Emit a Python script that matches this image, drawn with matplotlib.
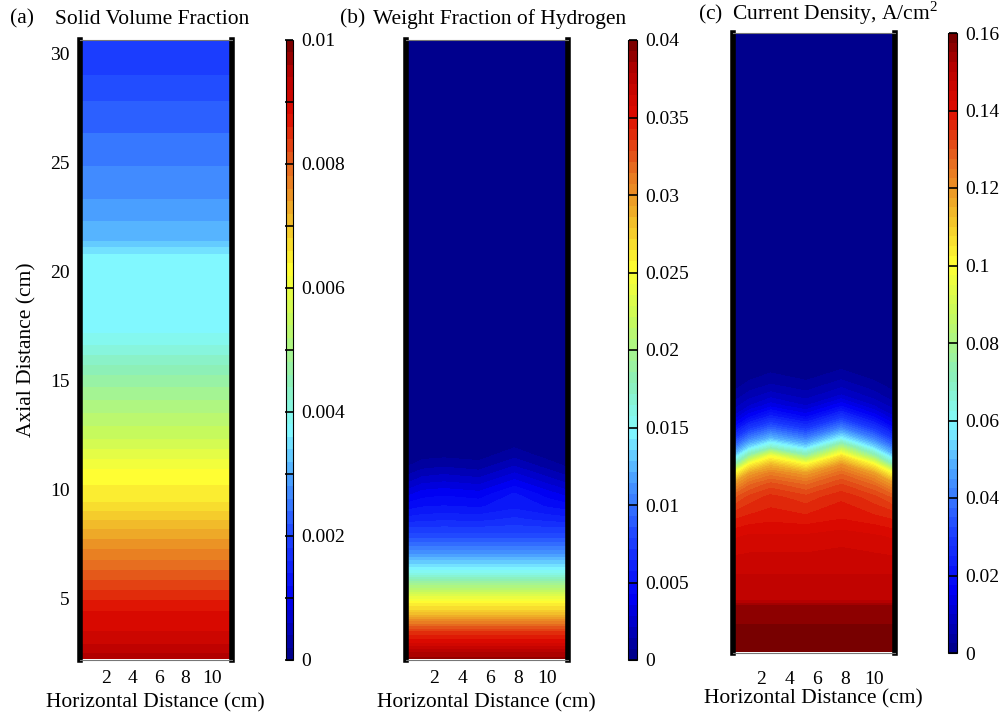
import numpy as np
import matplotlib
matplotlib.use("Agg")
import matplotlib.pyplot as plt
from matplotlib.colors import LinearSegmentedColormap
from matplotlib.ticker import MultipleLocator, FormatStrFormatter

plt.rcParams['font.family'] = ['Liberation Serif', 'DejaVu Serif']
plt.rcParams['mathtext.fontset'] = 'custom'
plt.rcParams['mathtext.rm'] = 'Liberation Serif'

# (a) solid volume fraction, uniform across the bed (values x 1e-3)
height_a = [2.2, 2.6, 3.2, 3.8, 4.4, 4.9, 5.6, 6.3, 7.0, 7.7, 8.4, 9.0, 9.6,
            10.2, 10.9, 11.6, 12.3, 13.2, 14.1, 15.0, 15.9, 16.6, 17.3, 18.5,
            19.6, 20.7, 21.4, 22.3, 23.3, 24.4, 25.6, 26.7, 27.8, 29.0, 30.6]
solid_a = [9.6, 9.3, 9.1, 8.9, 8.8, 8.6, 8.3, 8.0, 7.7, 7.4, 7.1, 6.8, 6.5,
           6.4, 6.2, 5.9, 5.6, 5.3, 5.0, 4.7, 4.3, 4.0, 3.75, 3.7,
           3.7, 3.65, 3.2, 3.0, 2.8, 2.65, 2.5, 2.35, 2.2, 2.0, 1.85]

# horizontal positions (cm) of the columns read for (b) and (c)
x_cols = [0, 1.2, 2.7, 5.2, 7.7, 10, 11.5]

# (b) weight fraction of hydrogen (x 1e-3): flat lower part, wavy front above
height_b_low = [2.2, 2.6, 3.0, 3.4, 3.9, 4.4, 4.8, 5.3, 5.8, 6.2, 6.6, 7.0, 7.5, 8.0]
h2_b_low = [39, 37.5, 35.5, 34, 31, 27.5, 25.5, 22, 18.5, 15.5, 13.5, 11.5, 9.5, 7.8]
height_b_up = [8.6, 9.2, 9.8, 10.4, 11.0, 11.5, 12.2, 12.8, 30.6]
h2_b_up = [
    [6.0, 6.2, 6.3, 6.2, 6.6, 6.2, 6.0],
    [4.6, 4.95, 5.05, 4.9, 5.5, 4.95, 4.6],
    [3.2, 3.9, 4.1, 3.8, 5.05, 3.9, 3.2],
    [1.8, 2.5, 2.7, 2.4, 3.65, 2.5, 1.8],
    [0.7, 1.25, 1.45, 1.15, 2.25, 1.25, 0.7],
    [0.2, 0.5, 0.6, 0.45, 1.25, 0.5, 0.2],
    [0, 0.09, 0.11, 0.07, 0.3, 0.09, 0],
    [0, 0, 0, 0, 0.06, 0, 0],
    [0, 0, 0, 0, 0, 0, 0],
]

# (c) current density (x 1e-2 A/cm2)
height_c_low = [2.2, 4.3, 4.6, 6.0]
cur_c_low = [16.0, 15.6, 15.0, 14.7]
height_c_up = [7.5, 8.5, 9.3, 9.9, 10.4, 10.8, 11.2, 11.6, 12.0, 12.5,
               13.0, 13.5, 14.0, 14.6, 15.2, 16.0, 30.6]
cur_c_up = [
    [14.2, 14.3, 14.3, 14.3, 14.4, 14.3, 14.2],
    [13.6, 13.75, 13.85, 13.75, 13.9, 13.75, 13.6],
    [12.9, 13.35, 13.6, 13.35, 13.7, 13.35, 12.9],
    [11.8, 12.7, 13.1, 12.7, 13.25, 12.7, 11.8],
    [9.8, 11.8, 12.35, 11.8, 12.7, 11.8, 9.8],
    [6.8, 10.2, 11.4, 10.2, 12.0, 10.2, 6.8],
    [5.0, 7.55, 9.8, 7.55, 10.6, 7.55, 5.0],
    [3.8, 5.45, 6.8, 5.45, 8.3, 5.45, 3.8],
    [2.8, 4.1, 5.0, 4.1, 5.9, 4.1, 2.8],
    [1.7, 2.8, 3.55, 2.8, 4.1, 2.8, 1.7],
    [1.0, 1.7, 2.35, 1.7, 2.8, 1.7, 1.0],
    [0.6, 1.0, 1.4, 1.0, 1.7, 1.0, 0.6],
    [0.3, 0.6, 0.85, 0.6, 1.0, 0.6, 0.3],
    [0.1, 0.27, 0.42, 0.27, 0.55, 0.27, 0.1],
    [0.0, 0.08, 0.17, 0.08, 0.23, 0.08, 0.0],
    [0, 0, 0, 0, 0.03, 0, 0],
    [0, 0, 0, 0, 0, 0, 0],
]

x_ticks = [2, 4, 6, 8, 10]
y_ticks = [5, 10, 15, 20, 25, 30]

# a lighter, jet-like colour scale as seen in the figure
cmap = LinearSegmentedColormap.from_list('pastel_jet', [
    (0.00, (0.00, 0.00, 0.52)),
    (0.10, (0.00, 0.00, 0.96)),
    (0.20, (0.12, 0.27, 1.00)),
    (0.30, (0.31, 0.66, 1.00)),
    (0.37, (0.51, 0.98, 1.00)),
    (0.45, (0.55, 0.94, 0.72)),
    (0.55, (0.78, 0.98, 0.36)),
    (0.63, (1.00, 1.00, 0.20)),
    (0.72, (0.94, 0.70, 0.16)),
    (0.80, (0.90, 0.40, 0.12)),
    (0.88, (0.87, 0.04, 0.00)),
    (0.95, (0.71, 0.00, 0.00)),
    (1.00, (0.45, 0.00, 0.00)),
])

W, H = 999, 712
fig = plt.figure(figsize=(W / 100, H / 100), dpi=100)


def box(x0, y0, x1, y1):
    # pixel box -> figure fraction rect
    return [x0 / W, 1 - y1 / H, (x1 - x0) / W, (y1 - y0) / H]


def field(ax, cax, x, h, z, vmax, nstep, ticks, minor=None, tpad=7, lpad=5):
    levels = np.linspace(0, vmax, nstep + 1)
    cs = ax.contourf(x, h, z, levels=levels, cmap=cmap, vmin=0, vmax=vmax)
    ax.set_xlim(0, 11.5)
    ax.set_ylim(2.16, 30.6)
    ax.set_xticks(x_ticks)
    ax.tick_params(length=0, labelsize=14, pad=7)
    ax.tick_params(axis='x', pad=tpad)
    for s in ['left', 'right']:
        ax.spines[s].set_linewidth(4)
        ax.spines[s].set_color('black')
    for s in ['top', 'bottom']:
        ax.spines[s].set_linewidth(0.8)
        ax.spines[s].set_color('#777777')
    ax.set_xlabel('Horizontal Distance (cm)', fontsize=15.5, labelpad=lpad)

    cb = fig.colorbar(cs, cax=cax, ticks=ticks)
    cb.outline.set_linewidth(0.8)
    cb.ax.yaxis.set_major_formatter(FormatStrFormatter('%g'))
    cb.ax.tick_params(direction='in', length=5.5, width=1.2, labelsize=14, pad=6)
    if minor is not None:
        cb.ax.yaxis.set_minor_locator(MultipleLocator(minor))
        cb.ax.tick_params(which='minor', direction='in', length=5.5, width=1.2)
    return cs


# panel (a)
ax_a = fig.add_axes(box(79.5, 40, 232, 660))
cax_a = fig.add_axes(box(286, 40, 293, 660))
za = np.column_stack([solid_a, solid_a]) * 1e-3
field(ax_a, cax_a, [0, 11.5], height_a, za, 0.01, 50,
      [0, 0.002, 0.004, 0.006, 0.008, 0.01], minor=0.001)
ax_a.set_yticks(y_ticks)
ax_a.set_ylabel('Axial Distance (cm)', fontsize=15.5, labelpad=10)

# panel (b)
ax_b = fig.add_axes(box(405.5, 40, 568, 660))
cax_b = fig.add_axes(box(628, 40, 637, 660))
zb = np.vstack([np.tile(np.array(h2_b_low)[:, None], (1, len(x_cols))),
                np.array(h2_b_up)]) * 1e-3
field(ax_b, cax_b, x_cols, height_b_low + height_b_up, zb, 0.04, 56,
      [0, 0.005, 0.01, 0.015, 0.02, 0.025, 0.03, 0.035, 0.04])
ax_b.set_yticks([])

# panel (c)
ax_c = fig.add_axes(box(732.5, 33, 895, 653))
cax_c = fig.add_axes(box(948, 33, 957, 653))
zc = np.vstack([np.tile(np.array(cur_c_low)[:, None], (1, len(x_cols))),
                np.array(cur_c_up)]) * 1e-2
field(ax_c, cax_c, x_cols, height_c_low + height_c_up, zc, 0.16, 64,
      [0, 0.02, 0.04, 0.06, 0.08, 0.1, 0.12, 0.14, 0.16], tpad=13, lpad=1)
ax_c.set_yticks([])

# panel titles
fig.text(10 / W, 1 - 19 / H, '(a)', fontsize=15.5, va='center')
fig.text(55 / W, 1 - 19 / H, 'Solid Volume Fraction', fontsize=15.5, va='center')
fig.text(340 / W, 1 - 19 / H, '(b)', fontsize=15.5, va='center')
fig.text(373 / W, 1 - 19 / H, 'Weight Fraction of Hydrogen', fontsize=15.5, va='center')
fig.text(698 / W, 1 - 13 / H, '(c)  Current Density, A/cm$^2$', fontsize=15.5, va='center')

fig.savefig('out.png', dpi=100)
